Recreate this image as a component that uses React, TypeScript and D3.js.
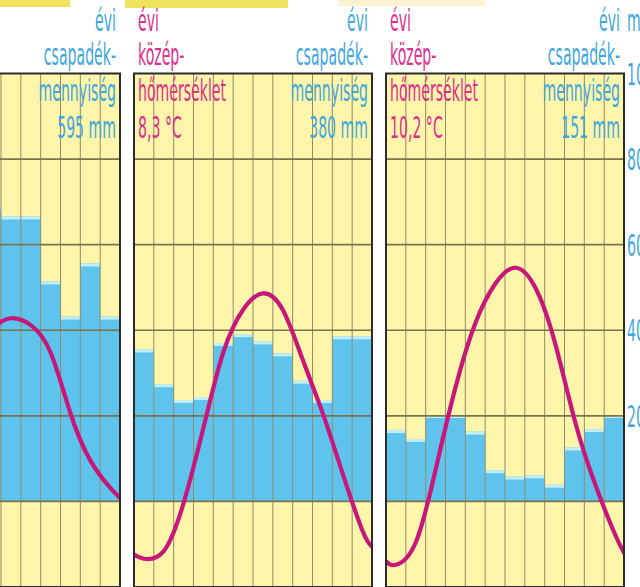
import React from 'react';
import * as d3 from 'd3';

// ---- data ----
const months = ['I', 'II', 'III', 'IV', 'V', 'VI', 'VII', 'VIII', 'IX', 'X', 'XI', 'XII'];
const precipA = [35, 32, 36, 45, 52, 68.9, 66.6, 66.6, 51.4, 43.2, 55.6, 43.2];
const precipB = [35.5, 27.4, 23.7, 24.4, 37, 39.1, 37.4, 34.6, 28.2, 23.7, 38.6, 38.6];
const precipC = [16.7, 14.6, 20.2, 20.2, 16.3, 7.3, 5.8, 6.1, 3.9, 12.6, 16.9, 20.2];
const tempA = [-0.6, 0.6, 4.5, 10.2, 15.8, 19.9, 21.4, 20.6, 17.4, 10.3, 4.8, 1.6];
const tempB = [-6.7, -5.8, -0.2, 8.6, 17.4, 22.4, 24.3, 22.4, 16.6, 10.4, 3.4, -3.3];
const tempC = [-7.4, -4.8, 3.7, 13.3, 20.8, 25.4, 27.3, 25.1, 18.7, 9.6, 2.3, -3.6];
// temperature where the curve meets the left / right panel edge
const edgeA = [-1.2, 0.4];
const edgeB = [-6.2, -5.3];
const edgeC = [-7.0, -6.0];
const precipLabels = ['595 mm', '380 mm', '151 mm'];
const tempLabels = [null, '8,3 °C', '10,2 °C'];
const precipTitle = ['évi', 'csapadék-', 'mennyiség'];
const tempTitle = ['évi', 'közép-', 'hőmérséklet'];
const axisTicks = [20, 40, 60, 80, 100];
const gridTicks = [0, 20, 40, 60, 80];

const panels = [
  { precip: precipA, temp: tempA, edge: edgeA, pLabel: precipLabels[0], tLabel: tempLabels[0] },
  { precip: precipB, temp: tempB, edge: edgeB, pLabel: precipLabels[1], tLabel: tempLabels[1] },
  { precip: precipC, temp: tempC, edge: edgeC, pLabel: precipLabels[2], tLabel: tempLabels[2] },
];

// ---- layout ----
const W = 640;
const H = 587;
const panelW = 238;
const panelStep = 252;
const panelX0 = 134 - panelStep;
const top = 73.5;
const bottom = 587;

const C = {
  fill: '#fdf5aa',
  bar: '#5ec4ee',
  barTop: '#c4edf1',
  vGrid: '#8f8b6c',
  hGrid: '#7b7350',
  border: '#2b2b2b',
  temp: '#c8177a',
  blue: '#3fa7dd',
  pink: '#de2f8e',
};

const yScale = d3.scaleLinear().domain([-20, 100]).range([bottom, top]);
const xBand = (x0: number) =>
  d3.scaleLinear().domain([0, 12]).range([x0, x0 + panelW]);

const SX = 0.47;
const FS = 30;
const baselines = [31, 65, 101, 138];

function Label({ x, y, anchor, color, text }: any) {
  return (
    <text
      transform={`translate(${x},${y}) scale(${SX},1)`}
      textAnchor={anchor}
      fontSize={FS}
      fontFamily="DejaVu Sans, sans-serif"
      fill={color}
    >
      {text}
    </text>
  );
}

export default function App() {
  return (
    <svg
      width={W}
      height={H}
      style={{ position: 'absolute', left: 0, top: 0, background: '#fff' }}
    >
      <defs>
        {panels.map((_, k) => {
          const x0 = panelX0 + k * panelStep;
          return (
            <clipPath id={`clip${k}`} key={k}>
              <rect x={x0} y={top} width={panelW} height={bottom - top} />
            </clipPath>
          );
        })}
      </defs>

      {/* cut-off title highlights */}
      <rect x={0} y={0} width={70} height={7} fill="#efe35e" />
      <rect x={125} y={0} width={163} height={8} fill="#efe35e" />
      <rect x={338} y={0} width={147} height={6} fill="#fbf3cf" />

      {panels.map((p, k) => {
        const x0 = panelX0 + k * panelStep;
        const x = xBand(x0);
        const colW = panelW / 12;
        const line = d3
          .line<{ i: number; t: number }>()
          .x((d) => x(d.i + 0.5))
          .y((d) => yScale(d.t * 2))
          .curve(d3.curveNatural);
        const pts = [
          { i: -0.5, t: p.edge[0] },
          ...p.temp.map((t, i) => ({ i, t })),
          { i: 11.5, t: p.edge[1] },
        ];
        return (
          <g key={k}>
            <rect x={x0} y={top} width={panelW} height={bottom - top} fill={C.fill} />
            {p.precip.map((v, i) => (
              <g key={months[i]}>
                <rect
                  x={x(i)}
                  y={yScale(v)}
                  width={colW}
                  height={yScale(0) - yScale(v)}
                  fill={C.bar}
                />
                <rect x={x(i)} y={yScale(v)} width={colW} height={3} fill={C.barTop} />
              </g>
            ))}
            {d3.range(1, 12).map((i) => (
              <line
                key={'v' + i}
                x1={x(i)}
                x2={x(i)}
                y1={top}
                y2={bottom}
                stroke={C.vGrid}
                strokeWidth={1}
              />
            ))}
            {gridTicks.map((g) => (
              <line
                key={'h' + g}
                x1={x0}
                x2={x0 + panelW}
                y1={yScale(g)}
                y2={yScale(g)}
                stroke={C.hGrid}
                strokeWidth={1.6}
              />
            ))}
            <g clipPath={`url(#clip${k})`}>
              <path d={line(pts) || ''} fill="none" stroke={C.temp} strokeWidth={4.2} strokeLinecap="round" />
            </g>
            <rect
              x={x0}
              y={top}
              width={panelW}
              height={bottom - top}
              fill="none"
              stroke={C.border}
              strokeWidth={2}
            />
            {[...precipTitle, p.pLabel].map((t, j) => (
              <Label key={'p' + j} x={x0 + panelW - 4} y={baselines[j]} anchor="end" color={C.blue} text={t} />
            ))}
            {p.tLabel &&
              [...tempTitle, p.tLabel].map((t, j) => (
                <Label key={'t' + j} x={x0 + 4} y={baselines[j]} anchor="start" color={C.pink} text={t} />
              ))}
          </g>
        );
      })}

      {/* right axis */}
      <Label x={627} y={baselines[0]} anchor="start" color={C.blue} text="mm" />
      {axisTicks.map((t) => (
        <Label key={t} x={627} y={yScale(t) + 11} anchor="start" color={C.blue} text={String(t)} />
      ))}
    </svg>
  );
}
